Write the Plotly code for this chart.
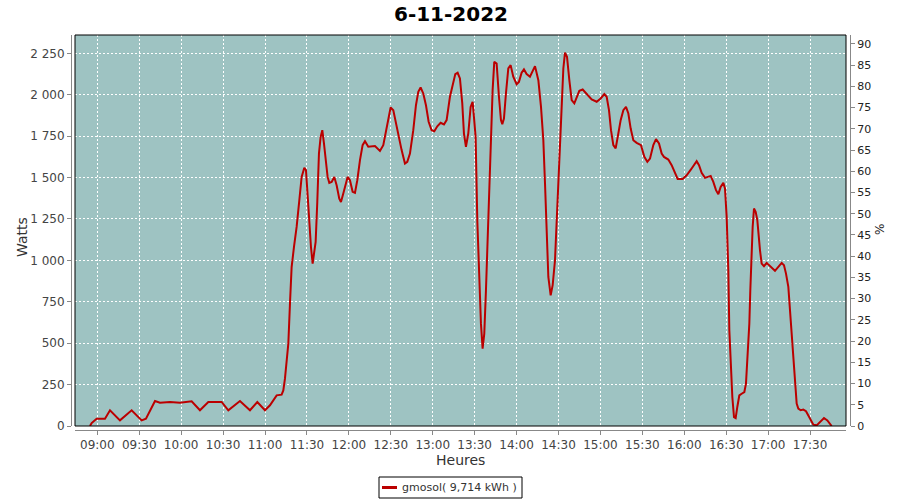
import plotly.graph_objects as go

DAY = "2022-11-06"
CHART_TITLE = "6-11-2022"
SERIES_NAME = "gmosol( 9,714 kWh )"
X_TITLE = "Heures"
Y_TITLE = "Watts"
Y2_TITLE = "%"

times = [
    "08:54:45", "08:55:57", "08:59:31", "09:03:06", "09:05:29", "09:09:04", "09:16:13", "09:24:34",
    "09:31:43", "09:34:49", "09:41:16", "09:44:50", "09:52:00", "09:59:09", "10:07:30", "10:13:27",
    "10:19:25", "10:28:58", "10:33:44", "10:42:04", "10:49:14", "10:54:29", "10:59:58", "11:03:32",
    "11:08:19", "11:11:53", "11:13:05", "11:14:16", "11:15:28", "11:16:40", "11:17:51", "11:19:02",
    "11:20:43", "11:22:37", "11:24:32", "11:26:12", "11:28:06", "11:29:18", "11:30:15", "11:31:41",
    "11:32:52", "11:34:04", "11:36:13", "11:37:24", "11:38:35", "11:39:47", "11:40:59", "11:42:10",
    "11:43:36", "11:44:47", "11:45:59", "11:47:40", "11:49:34", "11:51:14", "11:53:08", "11:54:20",
    "11:56:00", "11:59:06", "12:00:46", "12:02:41", "12:04:21", "12:06:01", "12:07:56", "12:09:50",
    "12:11:31", "12:13:53", "12:18:40", "12:22:14", "12:24:37", "12:26:32", "12:28:12", "12:29:52",
    "12:31:47", "12:33:41", "12:35:21", "12:37:44", "12:40:07", "12:41:47", "12:43:42", "12:46:05",
    "12:48:00", "12:49:40", "12:51:20", "12:53:14", "12:55:09", "12:57:04", "12:59:12", "13:01:07",
    "13:03:16", "13:05:39", "13:08:02", "13:09:56", "13:12:19", "13:14:14", "13:16:08", "13:17:49",
    "13:19:28", "13:21:08", "13:22:20", "13:23:46", "13:25:26", "13:27:07", "13:28:32", "13:29:29",
    "13:30:41", "13:31:53", "13:33:19", "13:34:30", "13:35:41", "13:36:53", "13:38:05", "13:39:16",
    "13:40:28", "13:41:40", "13:42:51", "13:44:02", "13:45:43", "13:47:23", "13:48:49", "13:49:46",
    "13:50:58", "13:52:23", "13:54:04", "13:55:44", "13:57:38", "14:00:01", "14:01:41", "14:03:36",
    "14:05:16", "14:07:11", "14:09:34", "14:13:11", "14:15:34", "14:17:28", "14:19:08", "14:20:20",
    "14:21:31", "14:22:43", "14:24:23", "14:25:49", "14:27:29", "14:29:10", "14:30:35", "14:32:16",
    "14:33:27", "14:34:38", "14:36:04", "14:37:44", "14:39:25", "14:41:19", "14:42:59", "14:44:54",
    "14:47:17", "14:50:08", "14:53:43", "14:57:18", "15:00:10", "15:02:47", "15:04:27", "15:06:07",
    "15:07:33", "15:09:13", "15:10:53", "15:12:48", "15:14:28", "15:16:23", "15:18:17", "15:19:58",
    "15:21:38", "15:23:32", "15:25:55", "15:29:01", "15:31:24", "15:33:33", "15:35:28", "15:37:50",
    "15:39:45", "15:41:54", "15:43:49", "15:45:28", "15:48:34", "15:50:58", "15:53:20", "15:55:15",
    "15:58:50", "16:01:41", "16:04:47", "16:07:11", "16:08:51", "16:10:31", "16:12:25", "16:14:49",
    "16:16:29", "16:18:52", "16:20:46", "16:22:41", "16:24:21", "16:26:01", "16:27:56", "16:29:07",
    "16:30:19", "16:31:30", "16:32:13", "16:33:10", "16:34:22", "16:35:34", "16:36:45", "16:37:56",
    "16:39:22", "16:41:02", "16:42:57", "16:44:08", "16:45:06", "16:45:49", "16:46:32", "16:47:14",
    "16:47:58", "16:48:55", "16:49:52", "16:51:04", "16:52:15", "16:53:13", "16:54:10", "16:55:21",
    "16:57:01", "16:58:56", "17:00:50", "17:02:45", "17:04:53", "17:07:17", "17:09:40", "17:11:20",
    "17:12:46", "17:14:26", "17:15:37", "17:16:49", "17:18:01", "17:19:12", "17:20:24", "17:21:35",
    "17:23:16", "17:25:10", "17:27:05", "17:28:45", "17:30:25", "17:32:20", "17:34:43", "17:37:06",
    "17:39:58", "17:42:21", "17:44:15", "17:45:27",
]

watts = [
    0, 18, 44, 44, 44, 95, 34, 95,
    34, 44, 151, 141, 145, 141, 149, 95,
    145, 145, 95, 151, 95, 145, 95, 125,
    185, 189, 215, 286, 377, 497, 739, 960,
    1081, 1202, 1363, 1504, 1559, 1545, 1424, 1222,
    1081, 981, 1112, 1353, 1645, 1746, 1786, 1706,
    1585, 1504, 1468, 1474, 1504, 1454, 1373, 1353,
    1404, 1504, 1484, 1414, 1408, 1484, 1605, 1696,
    1720, 1686, 1690, 1661, 1696, 1786, 1867, 1923,
    1907, 1827, 1746, 1666, 1585, 1595, 1645, 1786,
    1937, 2018, 2044, 2008, 1937, 1837, 1786, 1780,
    1810, 1831, 1821, 1847, 1988, 2068, 2125, 2133,
    2099, 1948, 1766, 1686, 1766, 1927, 1958, 1867,
    1746, 1243, 880, 618, 467, 558, 820, 1142,
    1464, 1736, 2028, 2199, 2189, 1988, 1847, 1823,
    1857, 2008, 2159, 2179, 2109, 2064, 2078, 2133,
    2153, 2125, 2109, 2173, 2088, 1927, 1726, 1464,
    1142, 900, 789, 850, 1001, 1323, 1686, 1988,
    2159, 2254, 2230, 2088, 1968, 1948, 1988, 2024,
    2032, 2004, 1972, 1958, 1978, 2004, 1988, 1907,
    1786, 1696, 1676, 1766, 1847, 1907, 1927, 1887,
    1796, 1726, 1710, 1696, 1625, 1595, 1615, 1696,
    1732, 1706, 1645, 1625, 1609, 1575, 1525, 1492,
    1492, 1514, 1549, 1579, 1599, 1575, 1529, 1498,
    1504, 1510, 1474, 1424, 1400, 1444, 1468, 1434,
    1263, 941, 578, 356, 175, 54, 48, 115,
    185, 195, 205, 256, 377, 518, 618, 820,
    1061, 1202, 1313, 1293, 1243, 1142, 1061, 981,
    965, 985, 971, 951, 937, 961, 985, 971,
    920, 840, 699, 518, 377, 246, 135, 105,
    95, 99, 89, 64, 34, 8, 4, 24,
    48, 34, 8, 0,
]

x_tick_labels = ["09:00", "09:30", "10:00", "10:30", "11:00", "11:30", "12:00", "12:30", "13:00",
                 "13:30", "14:00", "14:30", "15:00", "15:30", "16:00", "16:30", "17:00", "17:30"]
y_tick_values = [0, 250, 500, 750, 1000, 1250, 1500, 1750, 2000, 2250]
y_tick_labels = ["0", "250", "500", "750", "1 000", "1 250", "1 500", "1 750", "2 000", "2 250"]
pct_tick_values = [0, 5, 10, 15, 20, 25, 30, 35, 40, 45, 50, 55, 60, 65, 70, 75, 80, 85, 90]

x_range = ["08:44:02", "17:55:42"]
y_range = [0, 2361]
pct_range = [0, 92.1]

FONT = "DejaVu Sans"
TICK_COLOR = "#444444"
AXIS_LINE = "#888888"
LINE_COLOR = "#BB0000"

x_vals = [f"{DAY} {t}" for t in times]

fig = go.Figure()
fig.add_trace(go.Scatter(
    x=x_vals, y=watts, mode="lines", name=SERIES_NAME, showlegend=False,
    line=dict(color=LINE_COLOR, width=2),
    hoverinfo="x+y",
))
fig.add_trace(go.Scatter(
    x=[x_vals[0]], y=[None], yaxis="y2", mode="lines", showlegend=False, hoverinfo="skip",
))

# plot area: x 75..846, y 35..426 ; axis lines offset by 4 px
L, R, T, B = 71, 850, 35, 430
W, H = 900, 500
pw, ph = R - L, B - T
dx, dy = 4 / pw, 4 / ph


def px_x(p):
    return (p - L) / pw


def px_y(p):
    return (B - p) / ph


fig.update_layout(
    width=W, height=H, autosize=False,
    margin=dict(l=L, r=W - R, t=T, b=H - B, pad=0, autoexpand=False),
    paper_bgcolor="white",
    plot_bgcolor="#9EC3C2",
    font=dict(family=FONT, size=11, color=TICK_COLOR),
    title=dict(text=CHART_TITLE, x=px_x(451), xref="paper", xanchor="center",
               y=1 - 14 / H, yref="container", yanchor="middle",
               font=dict(family=FONT, size=20, color="black", weight="bold")),
    showlegend=False,
    xaxis=dict(
        type="date", domain=[dx, 1 - dx], anchor="free", position=0, automargin=False,
        range=[f"{DAY} {x_range[0]}", f"{DAY} {x_range[1]}"],
        tickvals=[f"{DAY} {t}:00" for t in x_tick_labels], ticktext=x_tick_labels,
        ticks="outside", ticklen=4, tickcolor=AXIS_LINE,
        showline=True, linecolor=AXIS_LINE, linewidth=1,
        showgrid=True, gridcolor="white", gridwidth=1, griddash="2px,2px",
        zeroline=False,
        tickfont=dict(size=12, color=TICK_COLOR),
    ),
    yaxis=dict(
        domain=[dy, 1], anchor="free", position=0, automargin=False,
        range=y_range, tickvals=y_tick_values, ticktext=y_tick_labels,
        ticks="outside", ticklen=4, tickcolor=AXIS_LINE,
        showline=True, linecolor=AXIS_LINE, linewidth=1,
        showgrid=True, gridcolor="white", gridwidth=1, griddash="2px,2px",
        zeroline=False,
        tickfont=dict(size=12, color=TICK_COLOR),
    ),
    yaxis2=dict(
        overlaying="y", side="right", anchor="free", position=1, automargin=False,
        range=pct_range, tickvals=pct_tick_values,
        ticks="outside", ticklen=4, tickcolor=AXIS_LINE,
        showline=True, linecolor=AXIS_LINE, linewidth=1,
        showgrid=False, zeroline=False,
        tickfont=dict(size=11, color="#222222"),
    ),
    annotations=[
        dict(text=X_TITLE, xref="paper", yref="paper", x=px_x(460), y=px_y(460),
             xanchor="center", yanchor="middle", showarrow=False,
             font=dict(family=FONT, size=14, color="#333333")),
        dict(text=Y_TITLE, xref="paper", yref="paper", x=px_x(22), y=px_y(237),
             xanchor="center", yanchor="middle", showarrow=False, textangle=-90,
             font=dict(family=FONT, size=14, color="#333333")),
        dict(text=Y2_TITLE, xref="paper", yref="paper", x=px_x(880), y=px_y(230),
             xanchor="center", yanchor="middle", showarrow=False, textangle=-90,
             font=dict(family=FONT, size=12, color="#222222")),
        # legend entry text
        dict(text=SERIES_NAME, xref="paper", yref="paper", x=px_x(400), y=px_y(488),
             xanchor="left", yanchor="middle", showarrow=False,
             font=dict(family=FONT, size=11, color="#333333")),
    ],
    shapes=[
        dict(type="rect", xref="x domain", yref="y domain", x0=0, x1=1, y0=0, y1=1,
             line=dict(color="black", width=1), fillcolor="rgba(0,0,0,0)", layer="above"),
        # legend box and swatch
        dict(type="rect", xref="paper", yref="paper", x0=px_x(379), x1=px_x(522),
             y0=px_y(498), y1=px_y(477), line=dict(color="black", width=1),
             fillcolor="white"),
        dict(type="line", xref="paper", yref="paper", x0=px_x(382), x1=px_x(397),
             y0=px_y(487.5), y1=px_y(487.5), line=dict(color=LINE_COLOR, width=3)),
    ],
)

fig.write_html(
    "out.html",
    config={"displayModeBar": False},
    post_script="document.body.style.margin='0';document.body.style.overflow='hidden';",
)
